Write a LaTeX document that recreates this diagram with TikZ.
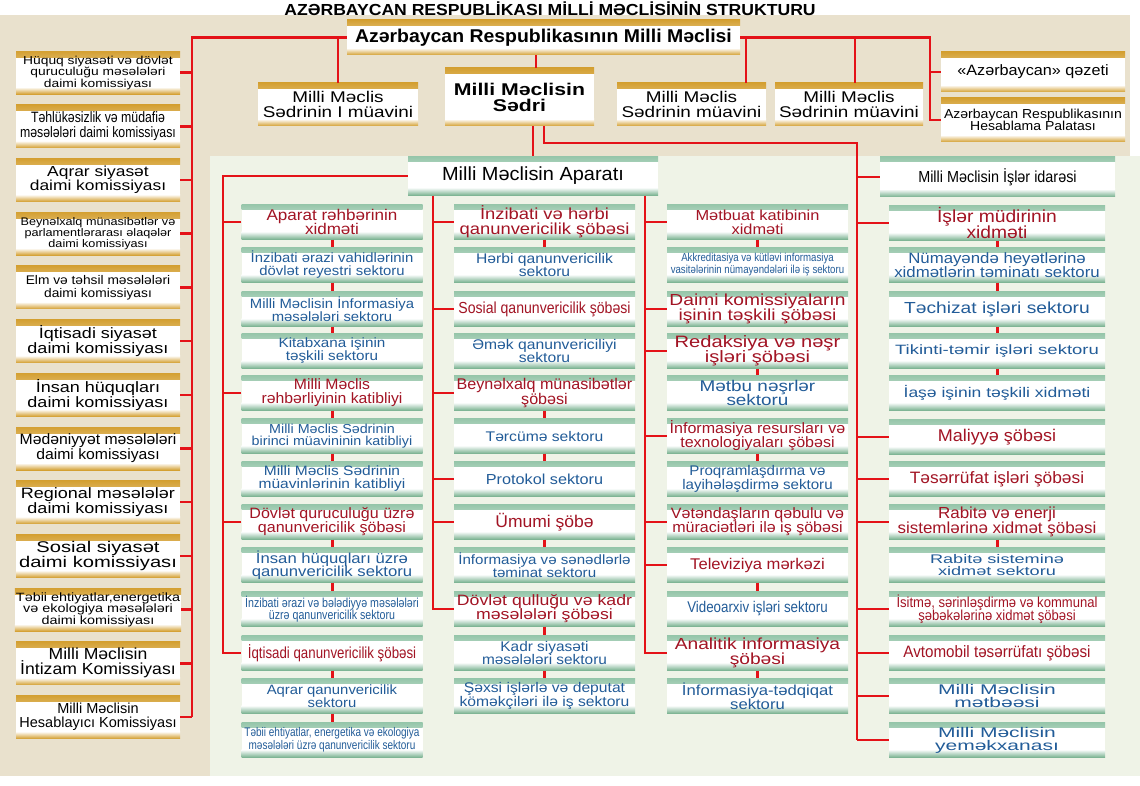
\documentclass[tikz,border=0pt]{standalone}
\usepackage{fontspec}
\setmainfont{Liberation Sans}
\definecolor{beige}{RGB}{233,225,205}
\definecolor{pgreen}{RGB}{239,243,231}
\definecolor{goldc}{RGB}{212,160,50}
\definecolor{greent}{RGB}{150,198,170}
\definecolor{greenb}{RGB}{118,176,142}
\definecolor{hred}{RGB}{162,20,36}
\definecolor{hblue}{RGB}{34,92,152}
\definecolor{lred}{RGB}{228,18,24}
\newcommand\F[3]{\fontsize{#2}{#3}\selectfont\addfontfeatures{FakeStretch=#1}\lineskiplimit=-\maxdimen\relax}
\tikzset{
  base/.style={fill=white, inner sep=1pt, align=center},
  gold/.style={base, path picture={
    \shade[top color=goldc, bottom color=white] (path picture bounding box.north west) rectangle ([yshift=-6pt]path picture bounding box.north east);
    \shade[top color=white, bottom color=goldc] ([yshift=7pt]path picture bounding box.south west) rectangle (path picture bounding box.south east);}},
  grn/.style={base, path picture={
    \shade[top color=greent, bottom color=white] (path picture bounding box.north west) rectangle ([yshift=-5pt]path picture bounding box.north east);
    \shade[top color=white, bottom color=greenb] ([yshift=8pt]path picture bounding box.south west) rectangle (path picture bounding box.south east);}},
  L/.style={gold, minimum width=164, minimum height=43},
  G/.style={grn, minimum width=181, minimum height=35},
  GD/.style={grn, minimum width=216, minimum height=35},
  hd/.style={text=hred},
  sc/.style={text=hblue},
  rl/.style={draw=lred, line width=2.5pt},
}
\begin{document}
\begin{tikzpicture}[x=1pt,y=-1pt]
\useasboundingbox (0,0) rectangle (1140,786);
% panels
\fill[beige] (0,15) rectangle (1130,156);
\fill[beige] (0,15) rectangle (210,776);
\fill[pgreen] (210,156) rectangle (1140,776);

% title
\node[font={\bfseries\F{1.1}{16}{16}}] (title) at (550,9) {AZƏRBAYCAN RESPUBLİKASI MİLLİ MƏCLİSİNİN STRUKTURU};

% top level
\node[gold, minimum width=393, minimum height=35, font={\bfseries\F{1.05}{18.5}{18}}] (top) at (543.5,37.5) {Azərbaycan Respublikasının Milli Məclisi};
\node[gold, minimum width=149, minimum height=58, font={\bfseries\F{1.25}{17}{16}}] (sedri) at (519.5,97) {Milli Məclisin\\Sədri};
\node[gold, minimum width=160, minimum height=43, font={\F{1.22}{15.5}{14.5}}] (i1) at (338,104.5) {Milli Məclis\\Sədrinin I müavini};
\node[gold, minimum width=149, minimum height=43, font={\F{1.22}{15.5}{14.5}}] (m1) at (691.5,104.5) {Milli Məclis\\Sədrinin müavini};
\node[gold, minimum width=148, minimum height=43, font={\F{1.22}{15.5}{14.5}}] (m2) at (849,104.5) {Milli Məclis\\Sədrinin müavini};
\node[gold, minimum width=184, minimum height=40, font={\F{1.08}{15}{15}}] (qez) at (1033,72) {«Azərbaycan» qəzeti};
\node[gold, minimum width=184, minimum height=44, font={\F{1.08}{13}{12.5}}] (hes) at (1033,120) {Azərbaycan Respublikasının\\Hesablama Palatası};

% left column
\node[L, font={\F{1.2}{11.5}{11.5}}] (L1) at (98,72.6) {Hüquq siyasəti və dövlət\\quruculuğu məsələləri\\daimi komissiyası};
\node[L, font={\F{0.82}{15}{15}}] (L2) at (98,126.3) {Təhlükəsizlik və müdafiə\\məsələləri daimi komissiyası};
\node[L, font={\F{1.2}{14.5}{14.5}}] (L3) at (98,180) {Aqrar siyasət\\daimi komissiyası};
\node[L, font={\F{1.15}{11}{11}}] (L4) at (98,233.7) {Beynəlxalq münasibətlər və\\parlamentlərarası əlaqələr\\daimi komissiyası};
\node[L, font={\F{1.1}{12.5}{13}}] (L5) at (98,287.4) {Elm və təhsil məsələləri\\daimi komissiyası};
\node[L, font={\F{1.2}{15}{15}}] (L6) at (98,341.1) {İqtisadi siyasət\\daimi komissiyası};
\node[L, font={\F{1.2}{15}{15}}] (L7) at (98,394.8) {İnsan hüquqları\\daimi komissiyası};
\node[L, font={\F{1.05}{15}{15}}] (L8) at (98,448.5) {Mədəniyyət məsələləri\\daimi komissiyası};
\node[L, font={\F{1.2}{15}{15}}] (L9) at (98,502.2) {Regional məsələlər\\daimi komissiyası};
\node[L, font={\F{1.3}{15.5}{15}}] (L10) at (98,555.9) {Sosial siyasət\\daimi komissiyası};
\node[L, font={\F{1.2}{12}{11.5}}] (L11) at (98,609.6) {Təbii ehtiyatlar,energetika\\və ekologiya məsələləri\\daimi komissiyası};
\node[L, font={\F{1.1}{16}{15}}] (L12) at (98,663.3) {Milli Məclisin\\İntizam Komissiyası};
\node[L, font={\F{1.0}{14.5}{14}}] (L13) at (98,717) {Milli Məclisin\\Hesablayıcı Komissiyası};

% apparatus heads
\node[grn, minimum width=250, minimum height=39, font={\F{1.05}{19}{19}}] (apar) at (533,176) {Milli Məclisin Aparatı};
\node[grn, minimum width=235, minimum height=40, font={\F{0.9}{16}{16}}] (isler) at (997.5,177) {Milli Məclisin İşlər idarəsi};

% column A
\node[G, hd, font={\F{1.1}{15.5}{14.5}}] (A0) at (332,222) {Aparat rəhbərinin\\xidməti};
\node[G, sc, font={\F{1.1}{13.5}{13}}] (A1) at (332,265) {İnzibati ərazi vahidlərinin\\dövlət reyestri sektoru};
\node[G, sc, font={\F{1.1}{13.5}{13}}] (A2) at (332,309) {Milli Məclisin İnformasiya\\məsələləri sektoru};
\node[G, sc, font={\F{1.13}{13.5}{13}}] (A3) at (332,351) {Kitabxana işinin\\təşkili sektoru};
\node[G, hd, font={\F{1.05}{15}{14}}] (A4) at (332,393) {Milli Məclis\\rəhbərliyinin katibliyi};
\node[G, sc, font={\F{1.1}{13}{12.5}}] (A5) at (332,436) {Milli Məclis Sədrinin\\birinci müavininin katibliyi};
\node[G, sc, font={\F{1.15}{13.5}{13}}] (A6) at (332,479) {Milli Məclis Sədrinin\\müavinlərinin katibliyi};
\node[G, hd, font={\F{1.07}{15}{14}}] (A7) at (332,522) {Dövlət quruculuğu üzrə\\qanunvericilik şöbəsi};
\node[G, sc, font={\F{1.15}{14.5}{13.5}}] (A8) at (332,565) {İnsan hüquqları üzrə\\qanunvericilik sektoru};
\node[G, sc, font={\F{0.82}{13}{12.5}}] (A9) at (332,609) {İnzibati ərazi və bələdiyyə məsələləri\\üzrə qanunvericilik sektoru};
\node[G, hd, font={\F{0.83}{16}{15}}] (A10) at (332,653) {İqtisadi qanunvericilik şöbəsi};
\node[G, sc, font={\F{1.1}{13.5}{13}}] (A11) at (332,696) {Aqrar qanunvericilik\\sektoru};
\node[G, sc, font={\F{0.8}{12.5}{12.5}}] (A12) at (332,740) {Təbii ehtiyatlar, energetika və ekologiya\\məsələləri üzrə qanunvericilik sektoru};

% column B
\node[G, hd, font={\F{1.15}{16}{15}}] (B0) at (544.5,222) {İnzibati və hərbi\\qanunvericilik şöbəsi};
\node[G, sc, font={\F{1.12}{14}{13.5}}] (B1) at (544.5,265) {Hərbi qanunvericilik\\sektoru};
\node[G, hd, font={\F{0.88}{16}{15}}] (B2) at (544.5,309) {Sosial qanunvericilik şöbəsi};
\node[G, sc, font={\F{1.12}{14}{13.5}}] (B3) at (544.5,351) {Əmək qanunvericiliyi\\sektoru};
\node[G, hd, font={\F{1.04}{15.5}{14.5}}] (B4) at (544.5,393) {Beynəlxalq münasibətlər\\şöbəsi};
\node[G, sc, font={\F{1.12}{14}{13}}] (B5) at (544.5,436) {Tərcümə sektoru};
\node[G, sc, font={\F{1.12}{14.5}{13}}] (B6) at (544.5,479) {Protokol sektoru};
\node[G, hd, font={\F{1.03}{17}{15}}] (B7) at (544.5,522) {Ümumi şöbə};
\node[G, sc, font={\F{1.12}{13.5}{13}}] (B8) at (544.5,565) {İnformasiya və sənədlərlə\\təminat sektoru};
\node[G, hd, font={\F{1.18}{15}{14}}] (B9) at (544.5,609) {Dövlət qulluğu və kadr\\məsələləri şöbəsi};
\node[G, sc, font={\F{1.1}{14}{13.5}}] (B10) at (544.5,653) {Kadr siyasəti\\məsələləri sektoru};
\node[G, sc, font={\F{1.12}{14}{13.5}}] (B11) at (544.5,696) {Şəxsi işlərlə və deputat\\köməkçiləri ilə iş sektoru};

% column C
\node[G, hd, font={\F{1.13}{14.5}{14}}] (C0) at (757.5,222) {Mətbuat katibinin\\xidməti};
\node[G, sc, font={\F{0.84}{11.5}{12}}] (C1) at (757.5,265) {Akkreditasiya və kütləvi informasiya\\vasitələrinin nümayəndələri ilə iş sektoru};
\node[G, hd, font={\F{1.2}{16}{15}}] (C2) at (757.5,309) {Daimi komissiyaların\\işinin təşkili şöbəsi};
\node[G, hd, font={\F{1.22}{16.5}{15.5}}] (C3) at (757.5,351) {Redaksiya və nəşr\\işləri şöbəsi};
\node[G, sc, font={\F{1.22}{15.5}{14.5}}] (C4) at (757.5,393) {Mətbu nəşrlər\\sektoru};
\node[G, hd, font={\F{1.07}{15}{14}}] (C5) at (757.5,436) {İnformasiya resursları və\\texnologiyaları şöbəsi};
\node[G, sc, font={\F{1.08}{14}{13.5}}] (C6) at (757.5,479) {Proqramlaşdırma və\\layihələşdirmə sektoru};
\node[G, hd, font={\F{1.07}{15}{14}}] (C7) at (757.5,522) {Vətəndaşların qəbulu və\\müraciətləri ilə iş şöbəsi};
\node[G, hd, font={\F{1.07}{15.5}{13}}] (C8) at (757.5,565) {Televiziya mərkəzi};
\node[G, sc, font={\F{0.86}{15.5}{13}}] (C9) at (757.5,609) {Videoarxiv işləri sektoru};
\node[G, hd, font={\F{1.2}{16}{15}}] (C10) at (757.5,653) {Analitik informasiya\\şöbəsi};
\node[G, sc, font={\F{1.15}{14.5}{14}}] (C11) at (757.5,696) {İnformasiya-tədqiqat\\sektoru};

% column D
\node[GD, hd, font={\F{1.1}{17.5}{16.5}}] (D0) at (997,223) {İşlər müdirinin\\xidməti};
\node[GD, sc, font={\F{1.12}{15}{14}}] (D1) at (997,265) {Nümayəndə heyətlərinə\\xidmətlərin təminatı sektoru};
\node[GD, sc, font={\F{1.2}{16}{13}}] (D2) at (997,309) {Təchizat işləri sektoru};
\node[GD, sc, font={\F{1.37}{13.5}{13}}] (D3) at (997,351) {Tikinti-təmir işləri sektoru};
\node[GD, sc, font={\F{1.25}{14}{13}}] (D4) at (997,393) {İaşə işinin təşkili xidməti};
\node[GD, hd, font={\F{1.06}{17}{15}}] (D5) at (997,437) {Maliyyə şöbəsi};
\node[GD, hd, font={\F{1.05}{16.5}{15}}] (D6) at (997,479) {Təsərrüfat işləri şöbəsi};
\node[GD, hd, font={\F{1.06}{16}{15}}] (D7) at (997,522) {Rabitə və enerji\\sistemlərinə xidmət şöbəsi};
\node[GD, sc, font={\F{1.45}{12.5}{12}}] (D8) at (997,565) {Rabitə sisteminə\\xidmət sektoru};
\node[GD, hd, font={\F{0.9}{14.5}{13.5}}] (D9) at (997,609) {İsitmə, sərinləşdirmə və kommunal\\şəbəkələrinə xidmət şöbəsi};
\node[GD, hd, font={\F{0.92}{16.5}{15}}] (D10) at (997,653) {Avtomobil təsərrüfatı şöbəsi};
\node[GD, sc, font={\F{1.5}{14}{13}}] (D11) at (997,696) {Milli Məclisin\\mətbəəsi};
\node[GD, sc, font={\F{1.5}{14}{13}}] (D12) at (997,740) {Milli Məclisin\\yeməkxanası};

% ---------- connectors ----------
\coordinate (lv) at (192,717);
\coordinate (tk) at (536,0);
\coordinate (rv) at (930,120);
\coordinate (m1x) at (746,0);
\coordinate (m2x) at (855,0);
\coordinate (sx) at (544,0);
\coordinate (c4t) at (857,143);
\coordinate (c1) at (223,0);
\coordinate (c2) at (433,0);
\coordinate (c3) at (645,0);

\draw[rl] (top.west) -| (lv);
\foreach \k in {1,...,13} \draw[rl] (L\k.east) -- (L\k.east -| lv);
\draw[rl] (top.west -| i1.north) -- (i1.north);
\draw[rl] (top.south -| tk) -- (sedri.north -| tk);
\draw[rl] (top.east) -| (rv) -- (hes.west);
\draw[rl] (qez.west -| rv) -- (qez.west);
\draw[rl] (top.east -| m1x) -- (m1.north -| m1x);
\draw[rl] (top.east -| m2x) -- (m2.north -| m2x);

\draw[rl] (sedri.south -| apar.north) -- (apar.north);
\draw[rl] (sedri.south -| sx) |- (c4t) -- (c4t |- D12.west);
\draw[rl] (isler.west) -- (isler.west -| c4t);
\foreach \k in {0,5,6,7,9,10,11,12} \draw[rl] (D\k.west) -- (D\k.west -| c4t);

\draw[rl] (apar.west) -| (c1 |- A10.west) -- (A10.west);
\foreach \k in {0,4,7} \draw[rl] (A\k.west) -- (A\k.west -| c1);
\draw[rl] (apar.south -| c2) -- (c2 |- B9.west) -- (B9.west);
\foreach \k in {0,2,4,6,7} \draw[rl] (B\k.west) -- (B\k.west -| c2);
\draw[rl] (apar.south -| c3) -- (c3 |- C10.west) -- (C10.west);
\foreach \k in {0,2,3,5,7,8} \draw[rl] (C\k.west) -- (C\k.west -| c3);

% chains
\foreach \a/\b in {A0/A1,A1/A2,A2/A3,A4/A5,A5/A6,A7/A8,A8/A9,A10/A11,A11/A12,
  B0/B1,B4/B5,B5/B6,B7/B8,B9/B10,B10/B11,
  C0/C1,C3/C4,C5/C6,C8/C9,C10/C11,
  D0/D1,D1/D2,D2/D3,D3/D4,D7/D8}
  \draw[draw=lred, line width=3pt] (\a.south) -- (\b.north);
\end{tikzpicture}
\end{document}
